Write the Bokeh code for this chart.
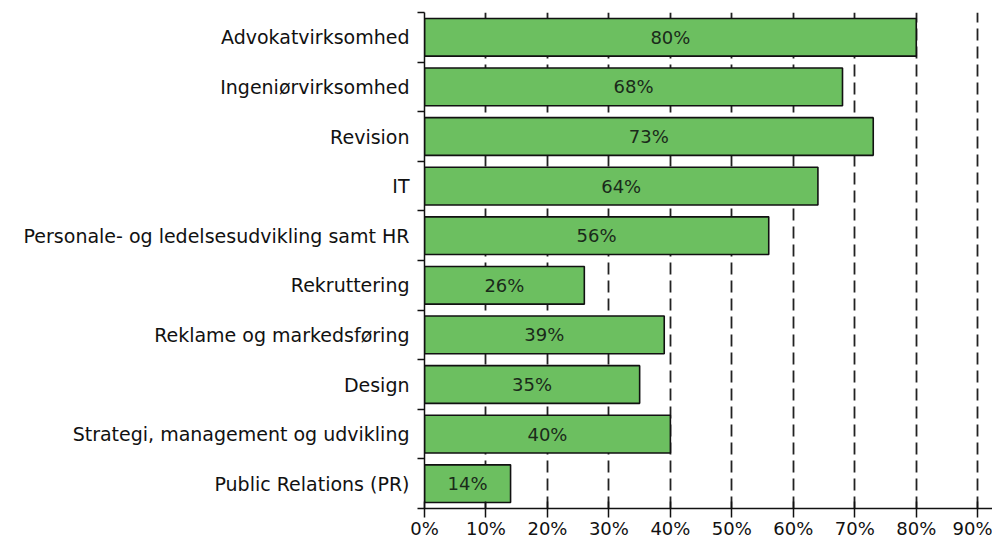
from bokeh.plotting import figure
from bokeh.models import Range1d, FixedTicker, ColumnDataSource, LabelSet
from bokeh.core.properties import value
from bokeh.embed import file_html
from bokeh.resources import INLINE

categories = [
    "Advokatvirksomhed",
    "Ingeniørvirksomhed",
    "Revision",
    "IT",
    "Personale- og ledelsesudvikling samt HR",
    "Rekruttering",
    "Reklame og markedsføring",
    "Design",
    "Strategi, management og udvikling",
    "Public Relations (PR)",
]
values = [80, 68, 73, 64, 56, 26, 39, 35, 40, 14]
x_ticks = [0, 10, 20, 30, 40, 50, 60, 70, 80, 90]
x_tick_labels = ["0%", "10%", "20%", "30%", "40%", "50%", "60%", "70%", "80%", "90%"]

n = len(categories)
centers = [n - i - 0.5 for i in range(n)]

src = ColumnDataSource(dict(
    y=centers,
    v=values,
    mid=[v / 2 for v in values],
    lab=[f"{v}%" for v in values],
))

FONT = "DejaVu Sans"

p = figure(width=992, height=541, output_backend="svg", toolbar_location=None,
           x_range=Range1d(0, 92.4), y_range=Range1d(0, n),
           min_border_left=424, min_border_right=0, min_border_top=12,
           min_border_bottom=29)
p.outline_line_color = None
p.background_fill_color = "white"

p.hbar(y="y", right="v", left=0, height=0.76, source=src,
       fill_color="#6cbf60", line_color="#111111", line_width=1.6)

labels = LabelSet(x="mid", y="y", text="lab", source=src,
                  text_align="center", text_baseline="middle",
                  text_font=value(FONT), text_font_size="18px", text_color="#1a2a1a")
p.add_layout(labels)

# x axis
p.xaxis.ticker = FixedTicker(ticks=x_ticks)
p.xaxis.major_label_overrides = {t: l for t, l in zip(x_ticks, x_tick_labels)}
p.xaxis.major_label_text_font = FONT
p.xaxis.major_label_text_font_size = "18px"
p.xaxis.major_label_text_color = "#111111"
p.xaxis.major_tick_in = 7
p.xaxis.major_tick_out = 9
p.xaxis.major_label_standoff = 0
p.xaxis.minor_tick_line_color = None
p.xaxis.axis_line_color = "#111111"
p.xaxis.axis_line_width = 1.5
p.xaxis.major_tick_line_color = "#111111"
p.xaxis.major_tick_line_width = 1.5

# y axis
p.yaxis.ticker = FixedTicker(ticks=centers, minor_ticks=list(range(n + 1)))
p.yaxis.major_label_overrides = {c: name for c, name in zip(centers, categories)}
p.yaxis.major_label_text_font = FONT
p.yaxis.major_label_text_font_size = "19px"
p.yaxis.major_label_text_color = "#111111"
p.yaxis.major_tick_in = 0
p.yaxis.major_tick_out = 0
p.yaxis.minor_tick_in = 0
p.yaxis.minor_tick_out = 7
p.yaxis.minor_tick_line_color = "#111111"
p.yaxis.minor_tick_line_width = 1.5
p.yaxis.major_label_standoff = 8
p.yaxis.axis_line_color = "#111111"
p.yaxis.axis_line_width = 1.5

# grids
p.ygrid.grid_line_color = None
p.xgrid.grid_line_color = "#222222"
p.xgrid.grid_line_width = 1.8
p.xgrid.grid_line_dash = "12 6"

open("out.html", "w").write(file_html(p, INLINE))
